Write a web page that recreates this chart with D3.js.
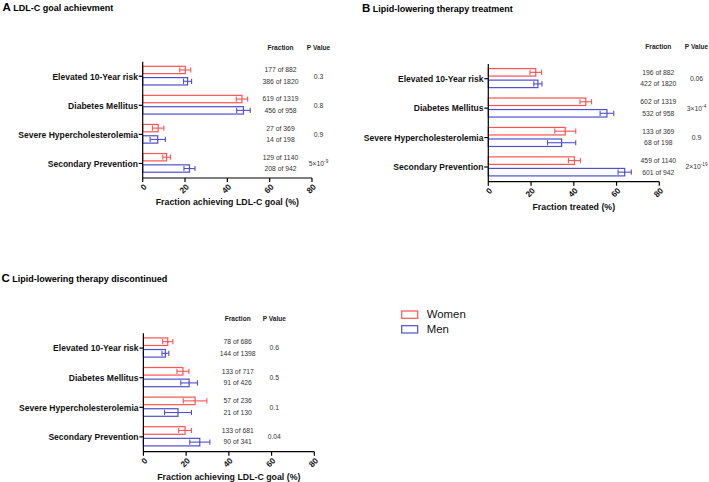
<!DOCTYPE html>
<html>
<head>
<meta charset="utf-8">
<script src="https://cdn.jsdelivr.net/npm/d3@7"></script>
<style>
  html, body { margin: 0; padding: 0; background: #fff; }
  svg { display: block; font-family: "Liberation Sans", Arial, sans-serif; }
</style>
</head>
<body>
<svg id="chart" width="709" height="482"></svg>
<script>
// ---------------- DATA ----------------
const categories = ["Elevated 10-Year risk", "Diabetes Mellitus", "Severe Hypercholesterolemia", "Secondary Prevention"];
const seriesNames = ["Women", "Men"];
const xTicks = [0, 20, 40, 60, 80];

// Panel A: LDL-C goal achievement (%), 95% CI half-widths
const aWomen = [20.1, 46.9, 7.3, 11.3];
const aWomenErr = [2.6, 2.7, 2.7, 1.8];
const aMen = [21.2, 47.6, 7.1, 22.1];
const aMenErr = [1.9, 3.2, 3.6, 2.6];
const aWomenFrac = ["177 of 882", "619 of 1319", "27 of 369", "129 of 1140"];
const aMenFrac = ["386 of 1820", "456 of 958", "14 of 198", "208 of 942"];
const aPBase = ["0.3", "0.8", "0.9", "5×10"];
const aPExp = ["", "", "", "-9"];

// Panel B: lipid-lowering therapy treatment (%)
const bWomen = [22.2, 45.6, 36.0, 40.3];
const bWomenErr = [2.7, 2.7, 4.9, 2.8];
const bMen = [23.2, 55.5, 34.3, 63.8];
const bMenErr = [1.9, 3.2, 6.6, 3.1];
const bWomenFrac = ["196 of 882", "602 of 1319", "133 of 369", "459 of 1140"];
const bMenFrac = ["422 of 1820", "532 of 958", "68 of 198", "601 of 942"];
const bPBase = ["0.06", "3×10", "0.9", "2×10"];
const bPExp = ["", "-4", "", "-19"];

// Panel C: lipid-lowering therapy discontinued (%)
const cWomen = [11.4, 18.5, 24.2, 19.5];
const cWomenErr = [2.4, 2.8, 5.5, 3.0];
const cMen = [10.3, 21.4, 16.2, 26.4];
const cMenErr = [1.6, 3.9, 6.3, 4.7];
const cWomenFrac = ["78 of 686", "133 of 717", "57 of 236", "133 of 681"];
const cMenFrac = ["144 of 1398", "91 of 426", "21 of 130", "90 of 341"];
const cPBase = ["0.6", "0.5", "0.1", "0.04"];
const cPExp = ["", "", "", ""];

// ---------------- STYLE ----------------
const colors = { Women: "#ff5252", Men: "#4f4fcf" };
const svg = d3.select("#chart");
svg.append("rect").attr("width", 709).attr("height", 482).attr("fill", "#fff");

function drawPanel(cfg) {
  const g = svg.append("g");
  // Panel letter and title
  const t = g.append("text").attr("x", cfg.letterX).attr("y", cfg.titleY)
    .attr("font-weight", "bold").attr("fill", "#000");
  t.append("tspan").attr("font-size", 11.5).text(cfg.letter);
  t.append("tspan").attr("font-size", 9).attr("dx", 2.5).text(cfg.title);

  const x = d3.scaleLinear().domain([0, 80]).range([cfg.x0, cfg.x1]);
  const y = d3.scaleBand().domain(categories).range([cfg.yTop, cfg.yBottom]).padding(0);
  const sub = d3.scaleBand().domain(seriesNames).range([4.6, y.bandwidth() - 5.8]).paddingInner(0.35).paddingOuter(0);

  const rows = categories.map((c, i) => ({
    cat: c,
    vals: [
      { s: "Women", v: cfg.women[i], e: cfg.womenErr[i], f: cfg.womenFrac[i] },
      { s: "Men", v: cfg.men[i], e: cfg.menErr[i], f: cfg.menFrac[i] }
    ],
    pb: cfg.pBase[i], pe: cfg.pExp[i]
  }));

  // Bars
  const rg = g.selectAll("g.row").data(rows).join("g").attr("class", "row")
    .attr("transform", d => `translate(0,${y(d.cat)})`);
  const bg = rg.selectAll("g.bar").data(d => d.vals).join("g").attr("class", "bar");
  bg.append("rect")
    .attr("x", x(0)).attr("y", d => sub(d.s))
    .attr("width", d => x(d.v) - x(0)).attr("height", sub.bandwidth())
    .attr("fill", "#fff").attr("stroke", d => colors[d.s]).attr("stroke-width", 1.2);
  // Error bars
  const cy = d => sub(d.s) + sub.bandwidth() / 2;
  bg.append("line")
    .attr("x1", d => x(d.v - d.e)).attr("x2", d => x(d.v + d.e))
    .attr("y1", cy).attr("y2", cy)
    .attr("stroke", d => colors[d.s]).attr("stroke-width", 1.1);
  [-1, 1].forEach(sgn => {
    bg.append("line")
      .attr("x1", d => x(d.v + sgn * d.e)).attr("x2", d => x(d.v + sgn * d.e))
      .attr("y1", d => cy(d) - 2.6).attr("y2", d => cy(d) + 2.6)
      .attr("stroke", d => colors[d.s]).attr("stroke-width", 1.1);
  });
  // Fraction text
  bg.append("text")
    .attr("x", cfg.fracX).attr("y", cy).attr("dy", "0.35em")
    .attr("text-anchor", "middle").attr("font-size", 6.8).attr("fill", "#333")
    .text(d => d.f);
  // P values
  const pt = rg.append("text")
    .attr("x", cfg.pX).attr("y", y.bandwidth() / 2).attr("dy", "0.35em")
    .attr("text-anchor", "middle").attr("font-size", 6.8).attr("fill", "#333");
  pt.append("tspan").text(d => d.pb);
  pt.append("tspan").attr("font-size", 4.6).attr("dy", -3).text(d => d.pe);

  // Headers
  g.append("text").attr("x", cfg.fracX).attr("y", cfg.headerY).attr("text-anchor", "middle")
    .attr("font-size", 6.6).attr("font-weight", "bold").attr("fill", "#222").text("Fraction");
  g.append("text").attr("x", cfg.pX).attr("y", cfg.headerY).attr("text-anchor", "middle")
    .attr("font-size", 6.6).attr("font-weight", "bold").attr("fill", "#222").text("P Value");

  // Y axis
  g.append("line").attr("x1", x(0)).attr("x2", x(0)).attr("y1", cfg.yTop).attr("y2", cfg.yBottom)
    .attr("stroke", "#000").attr("stroke-width", 1.2);
  categories.forEach(c => {
    const yy = y(c) + y.bandwidth() / 2;
    g.append("line").attr("x1", x(0) - 4).attr("x2", x(0)).attr("y1", yy).attr("y2", yy)
      .attr("stroke", "#000").attr("stroke-width", 1.2);
    g.append("text").attr("transform", `translate(${x(0) - 4.8},${yy}) scale(0.92,1)`)
      .attr("dy", "0.35em")
      .attr("text-anchor", "end").attr("font-size", 9.3).attr("font-weight", "bold")
      .attr("fill", "#111").text(c);
  });

  // X axis
  g.append("line").attr("x1", x(0)).attr("x2", x(80)).attr("y1", cfg.yBottom).attr("y2", cfg.yBottom)
    .attr("stroke", "#000").attr("stroke-width", 1.2);
  xTicks.forEach(v => {
    g.append("line").attr("x1", x(v)).attr("x2", x(v)).attr("y1", cfg.yBottom).attr("y2", cfg.yBottom + 4)
      .attr("stroke", "#000").attr("stroke-width", 1.2);
    g.append("text")
      .attr("transform", `translate(${x(v) + 4.5},${cfg.yBottom + 9.5}) rotate(-45)`)
      .attr("text-anchor", "end").attr("font-size", 8.3).attr("font-weight", "bold")
      .attr("fill", "#111").text(v);
  });
  g.append("text").attr("x", (x(0) + x(80)) / 2).attr("y", cfg.axisTitleY)
    .attr("text-anchor", "middle").attr("font-size", 8.8).attr("font-weight", "bold")
    .attr("fill", "#111").text(cfg.axisTitle);
}

drawPanel({
  letter: "A", title: "LDL-C goal achievment", letterX: 2.5, titleY: 10.8,
  x0: 142.7, x1: 312, yTop: 61.7, yBottom: 178,
  fracX: 280.5, pX: 318.5, headerY: 49.5, axisTitleY: 205,
  axisTitle: "Fraction achieving LDL-C goal (%)",
  women: aWomen, womenErr: aWomenErr, men: aMen, menErr: aMenErr,
  womenFrac: aWomenFrac, menFrac: aMenFrac, pBase: aPBase, pExp: aPExp
});
drawPanel({
  letter: "B", title: "Lipid-lowering therapy treatment", letterX: 362, titleY: 11.5,
  x0: 488.3, x1: 659.3, yTop: 64, yBottom: 181.7,
  fracX: 658.3, pX: 696.5, headerY: 48.5, axisTitleY: 209.5,
  axisTitle: "Fraction treated (%)",
  women: bWomen, womenErr: bWomenErr, men: bMen, menErr: bMenErr,
  womenFrac: bWomenFrac, menFrac: bMenFrac, pBase: bPBase, pExp: bPExp
});
drawPanel({
  letter: "C", title: "Lipid-lowering therapy discontinued", letterX: 1.5, titleY: 282.3,
  x0: 143.4, x1: 314.3, yTop: 333.3, yBottom: 451.7,
  fracX: 237.7, pX: 274.3, headerY: 320.8, axisTitleY: 479.5,
  axisTitle: "Fraction achieving LDL-C goal (%)",
  women: cWomen, womenErr: cWomenErr, men: cMen, menErr: cMenErr,
  womenFrac: cWomenFrac, menFrac: cMenFrac, pBase: cPBase, pExp: cPExp
});

// Legend
const legend = svg.append("g").attr("transform", "translate(401.7,311)");
seriesNames.forEach((s, i) => {
  legend.append("rect").attr("x", 0).attr("y", i * 14.7).attr("width", 16).attr("height", 7.3)
    .attr("fill", "#fff").attr("stroke", colors[s]).attr("stroke-width", 1.2);
  legend.append("text").attr("x", 25).attr("y", i * 14.7 + 7.3).attr("font-size", 11.4)
    .attr("fill", "#111").text(s);
});
</script>
</body>
</html>
